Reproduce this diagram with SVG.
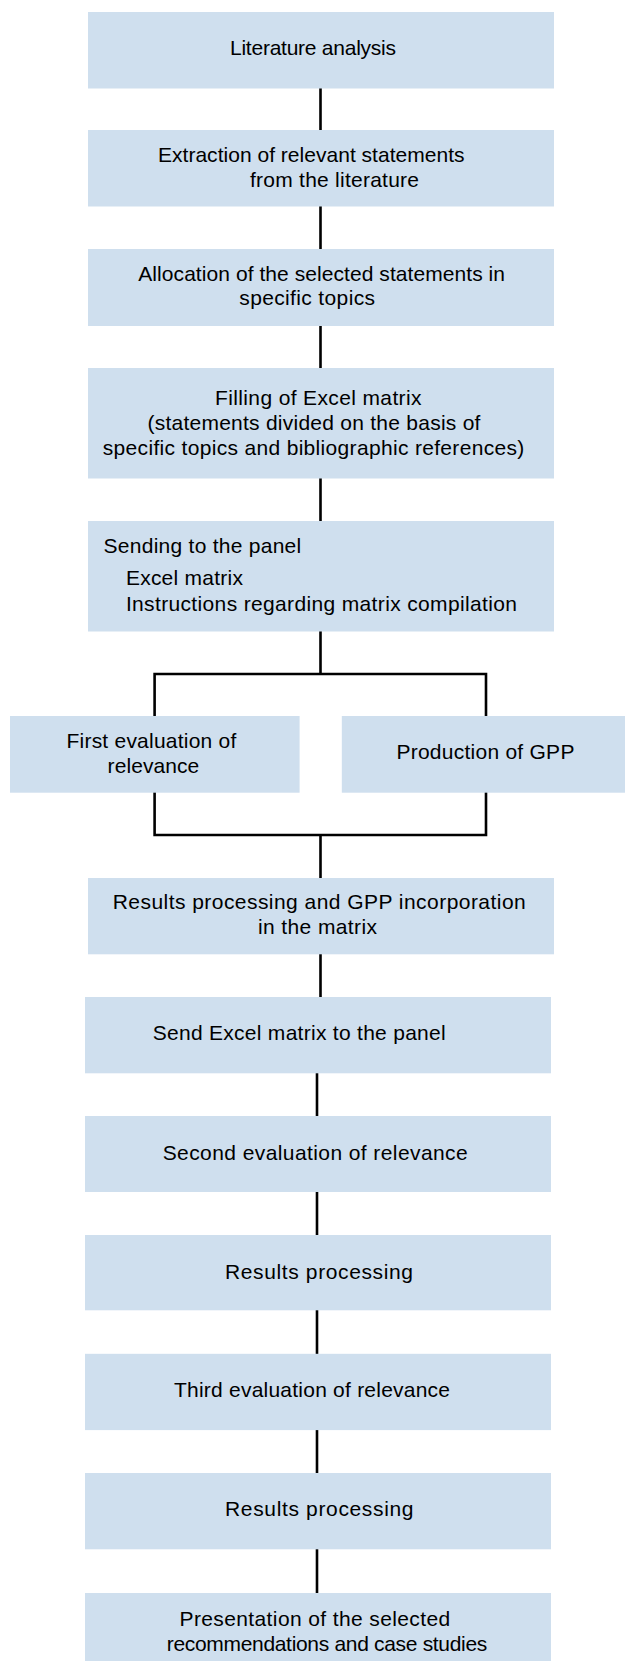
<svg xmlns="http://www.w3.org/2000/svg" width="625" height="1661" viewBox="0 0 625 1661">
<style>
.box{fill:#cfdfee}
text{font-family:"Liberation Sans",Arial,sans-serif;font-size:21px;fill:#000}
.ln{stroke:#000;stroke-width:2.6;fill:none}
</style>
<rect width="625" height="1661" fill="#fff"/>
<g id="connectors">
<path class="ln" d="M320.5,88 V130 M320.5,206 V249 M320.5,325 V368 M320.5,478 V521 M320.5,631 V674"/>
<path class="ln" d="M154.6,716 V674 H486 V716"/>
<path class="ln" d="M154.6,792 V835 H486 V792 M320.5,835 V878"/>
<path class="ln" d="M320.5,954 V997 M317,1073 V1116 M317,1191 V1235 M317,1310 V1354 M317,1430 V1473 M317,1549 V1593"/>
</g>
<g id="n1"><rect class="box" x="88" y="12" width="466" height="76.5"/><text x="230" y="55" textLength="166">Literature analysis</text></g>
<g id="n2"><rect class="box" x="88" y="130" width="466" height="76.5"/><text x="158" y="162" textLength="306.5">Extraction of relevant statements</text><text x="250" y="186.5" textLength="169">from the literature</text></g>
<g id="n3"><rect class="box" x="88" y="249" width="466" height="77"/><text x="138.3" y="281" textLength="366.7">Allocation of the selected statements in</text><text x="239.3" y="305" textLength="135.7">specific topics</text></g>
<g id="n4"><rect class="box" x="88" y="368" width="466" height="110.5"/><text x="215" y="405" textLength="206.5">Filling of Excel matrix</text><text x="147.4" y="430" textLength="333">(statements divided on the basis of</text><text x="102.8" y="454.5" textLength="421.5">specific topics and bibliographic references)</text></g>
<g id="n5"><rect class="box" x="88" y="521" width="466" height="110.5"/><text x="103.6" y="553.3" textLength="197.6">Sending to the panel</text><text x="125.9" y="585" textLength="117">Excel matrix</text><text x="125.9" y="610.7" textLength="391">Instructions regarding matrix compilation</text></g>
<g id="n6a"><rect class="box" x="10" y="716" width="289.6" height="76.7"/><text x="66.5" y="748.3" textLength="169.8">First evaluation of</text><text x="107.6" y="772.7" textLength="91.6">relevance</text></g>
<g id="n6b"><rect class="box" x="341.8" y="716" width="283.2" height="76.7"/><text x="396.4" y="759.3" textLength="178">Production of GPP</text></g>
<g id="n7"><rect class="box" x="88" y="878" width="466" height="76.3"/><text x="112.7" y="909.3" textLength="413">Results processing and GPP incorporation</text><text x="258" y="934" textLength="119">in the matrix</text></g>
<g id="n8"><rect class="box" x="85" y="997" width="466" height="76.3"/><text x="152.7" y="1039.5" textLength="293">Send Excel matrix to the panel</text></g>
<g id="n9"><rect class="box" x="85" y="1116" width="466" height="76"/><text x="162.7" y="1159.5" textLength="305">Second evaluation of relevance</text></g>
<g id="n10"><rect class="box" x="85" y="1235" width="466" height="75.3"/><text x="225" y="1278.5" textLength="188">Results processing</text></g>
<g id="n11"><rect class="box" x="85" y="1353.8" width="466" height="76.3"/><text x="174" y="1397.3" textLength="276">Third evaluation of relevance</text></g>
<g id="n12"><rect class="box" x="85" y="1473" width="466" height="76.3"/><text x="225" y="1516" textLength="188.5">Results processing</text></g>
<g id="n13"><rect class="box" x="85" y="1593" width="466" height="68"/><text x="179.5" y="1625.5" textLength="270.7">Presentation of the selected</text><text x="166.7" y="1651" textLength="320.6">recommendations and case studies</text></g>
</svg>
